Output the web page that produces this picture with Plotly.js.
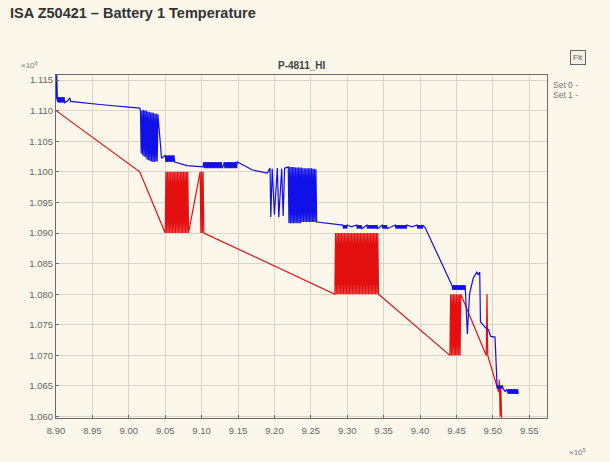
<!DOCTYPE html>
<html>
<head>
<meta charset="utf-8">
<script src="https://cdn.plot.ly/plotly-3.0.1.min.js"></script>
<style>html,body{margin:0;padding:0;background:#fdf6ea;}#chart{width:610px;height:462px;}</style>
</head>
<body>
<div id="chart"></div>
<script>
// Set 0 (blue)
const set0X = [
  8.900,8.901,8.902,
  8.903,8.904,8.905,8.906,8.907,8.908,8.909,8.910,8.911,8.912,
  8.916,8.919,8.920,8.960,9.015,
  9.016,9.017,9.018,9.019,9.020,9.021,9.022,9.023,9.024,9.025,
  9.026,9.027,9.028,9.029,9.030,9.031,9.032,9.033,9.034,9.035,
  9.036,9.037,9.038,9.039,9.040,
  9.045,
  9.050,9.051,9.052,9.053,9.054,9.055,9.056,9.057,9.058,9.059,9.060,9.061,9.062,9.063,
  9.080,9.102,
  9.103,9.104,9.105,9.106,9.107,9.108,9.109,9.110,9.111,9.112,
  9.113,9.114,9.115,9.116,9.117,9.118,9.119,9.120,9.121,9.122,
  9.123,9.124,9.125,9.126,9.127,9.128,
  9.130,
  9.131,9.132,9.133,9.134,9.135,9.136,9.137,9.138,9.139,9.140,
  9.141,9.142,9.143,9.144,9.145,9.146,9.147,9.148,9.149,
  9.170,9.190,
  9.194,9.195,9.197,9.200,9.204,9.206,9.210,9.212,9.214,
  9.219,9.220,9.221,9.222,9.223,9.224,9.225,9.226,9.227,9.228,
  9.229,9.230,9.231,9.232,9.233,9.234,9.235,9.236,9.237,9.238,
  9.239,9.240,9.241,9.242,9.243,9.244,9.245,9.246,9.247,9.248,
  9.249,9.250,9.251,9.252,9.253,9.254,9.255,9.256,9.257,9.258,
  9.294,9.295,9.296,9.297,9.298,9.299,9.300,
  9.306,
  9.313,9.314,9.315,9.316,9.317,9.318,9.319,9.320,
  9.324,
  9.327,9.328,9.329,9.330,9.331,9.332,9.333,9.334,9.335,9.336,9.337,9.338,9.339,9.340,9.341,9.342,
  9.345,
  9.348,9.349,9.350,9.351,9.352,9.353,9.354,9.355,
  9.360,
  9.366,9.367,9.368,9.369,9.370,9.371,9.372,9.373,9.374,9.375,9.376,9.377,9.378,9.379,9.380,9.381,9.382,
  9.389,
  9.396,9.397,9.398,9.399,9.400,9.401,9.402,9.403,9.404,
  9.407,9.444,
  9.445,9.446,9.447,9.448,9.449,9.450,9.451,9.452,9.453,9.454,9.455,9.456,9.457,9.458,9.459,9.460,9.461,9.462,
  9.465,9.468,9.473,9.478,9.480,9.482,9.483,9.487,9.490,9.494,9.497,9.503,9.505,
  9.506,9.507,9.508,9.509,9.510,9.511,9.512,9.513,9.514,
  9.517,
  9.520,9.521,9.522,9.523,9.524,9.525,9.526,9.527,9.528,9.529,9.530,9.531,9.532,9.533,9.534,9.535];
const set0Y = [
  1.1118,1.1158,1.1114,
  1.1122,1.1113,1.1122,1.1113,1.1122,1.1113,1.1122,1.1113,1.1122,1.1113,
  1.1116,1.1121,1.1115,1.1110,1.1104,
  1.1101,1.1030,1.1100,1.1027,1.1101,1.1025,1.1100,1.1024,1.1100,1.1020,
  1.1098,1.1019,1.1098,1.1018,1.1097,1.1017,1.1097,1.1016,1.1096,1.1016,
  1.1095,1.1017,1.1095,1.1017,1.1094,
  1.1022,
  1.1027,1.1016,1.1027,1.1016,1.1027,1.1016,1.1027,1.1016,1.1027,1.1016,1.1027,1.1016,1.1027,1.1016,
  1.1010,1.1008,
  1.1016,1.1006,1.1016,1.1006,1.1016,1.1006,1.1016,1.1006,1.1016,1.1006,
  1.1016,1.1006,1.1016,1.1006,1.1016,1.1006,1.1016,1.1006,1.1016,1.1006,
  1.1016,1.1006,1.1016,1.1006,1.1016,1.1006,
  1.1010,
  1.1016,1.1006,1.1016,1.1006,1.1016,1.1006,1.1016,1.1006,1.1016,1.1006,
  1.1016,1.1006,1.1016,1.1006,1.1016,1.1006,1.1016,1.1006,1.1016,
  1.1003,1.0998,
  1.1006,1.0926,1.1005,1.0930,1.1006,1.0926,1.1005,1.0928,1.1006,
  1.1008,1.0916,1.1008,1.0916,1.1008,1.0916,1.1008,1.0916,1.1008,1.0916,
  1.1007,1.0916,1.1007,1.0916,1.1007,1.0916,1.1007,1.0916,1.1007,1.0918,
  1.1006,1.0918,1.1006,1.0918,1.1006,1.0918,1.1006,1.0918,1.1006,1.0918,
  1.1006,1.0918,1.1006,1.0918,1.1005,1.0918,1.1005,1.0918,1.1004,1.0918,
  1.0913,1.0907,1.0913,1.0907,1.0913,1.0907,1.0913,
  1.0910,
  1.0913,1.0907,1.0913,1.0907,1.0913,1.0907,1.0913,1.0907,
  1.0910,
  1.0913,1.0907,1.0913,1.0907,1.0913,1.0907,1.0913,1.0907,1.0913,1.0907,1.0913,1.0907,1.0913,1.0907,1.0913,1.0907,
  1.0910,
  1.0913,1.0907,1.0913,1.0907,1.0913,1.0907,1.0913,1.0907,
  1.0910,
  1.0913,1.0907,1.0913,1.0907,1.0913,1.0907,1.0913,1.0907,1.0913,1.0907,1.0913,1.0907,1.0913,1.0907,1.0913,1.0907,1.0913,
  1.0910,
  1.0913,1.0907,1.0913,1.0907,1.0913,1.0907,1.0913,1.0907,1.0913,
  1.0909,1.0814,
  1.0807,1.0815,1.0807,1.0815,1.0807,1.0815,1.0807,1.0815,1.0807,1.0815,1.0807,1.0815,1.0807,1.0815,1.0807,1.0815,1.0807,1.0815,
  1.0735,1.0800,1.0826,1.0836,1.0832,1.0836,1.0755,1.0750,1.0745,1.0742,1.0731,1.0730,1.0650,
  1.0646,1.0651,1.0646,1.0651,1.0646,1.0651,1.0646,1.0651,1.0646,
  1.0641,
  1.0645,1.0637,1.0645,1.0637,1.0645,1.0637,1.0645,1.0637,1.0645,1.0637,1.0645,1.0637,1.0645,1.0637,1.0645,1.0637];

// Set 1 (red)
const set1X = [
  8.900,9.015,9.050,
  9.051,9.052,9.053,9.054,9.055,9.056,9.057,9.058,9.059,9.060,
  9.061,9.062,9.063,9.064,9.065,9.066,9.067,9.068,9.069,9.070,
  9.071,9.072,9.073,9.074,9.075,9.076,9.077,9.078,9.079,9.080,
  9.081,9.082,
  9.098,9.099,9.100,9.101,9.102,9.103,
  9.283,
  9.284,9.285,9.286,9.287,9.288,9.289,9.290,9.291,9.292,9.293,
  9.294,9.295,9.296,9.297,9.298,9.299,9.300,9.301,9.302,9.303,
  9.304,9.305,9.306,9.307,9.308,9.309,9.310,9.311,9.312,9.313,
  9.314,9.315,9.316,9.317,9.318,9.319,9.320,9.321,9.322,9.323,
  9.324,9.325,9.326,9.327,9.328,9.329,9.330,9.331,9.332,9.333,
  9.334,9.335,9.336,9.337,9.338,9.339,9.340,9.341,9.342,9.343,
  9.441,
  9.442,9.443,9.444,9.445,9.446,9.447,9.448,9.449,9.450,9.451,
  9.452,9.453,9.454,9.455,9.456,
  9.491,9.492,9.493,9.508,9.509,9.510,9.511,9.512];
const set1Y = [
  1.1100,1.1000,1.0900,
  1.1000,1.0900,1.1000,1.0900,1.1000,1.0900,1.1000,1.0900,1.1000,1.0900,
  1.1000,1.0900,1.1000,1.0900,1.1000,1.0900,1.1000,1.0900,1.1000,1.0900,
  1.1000,1.0900,1.1000,1.0900,1.1000,1.0900,1.1000,1.0900,1.1000,1.0900,
  1.1000,1.0900,
  1.1000,1.0900,1.1000,1.0900,1.1000,1.0900,
  1.0800,
  1.0900,1.0800,1.0900,1.0800,1.0900,1.0800,1.0900,1.0800,1.0900,1.0800,
  1.0900,1.0800,1.0900,1.0800,1.0900,1.0800,1.0900,1.0800,1.0900,1.0800,
  1.0900,1.0800,1.0900,1.0800,1.0900,1.0800,1.0900,1.0800,1.0900,1.0800,
  1.0900,1.0800,1.0900,1.0800,1.0900,1.0800,1.0900,1.0800,1.0900,1.0800,
  1.0900,1.0800,1.0900,1.0800,1.0900,1.0800,1.0900,1.0800,1.0900,1.0800,
  1.0900,1.0800,1.0900,1.0800,1.0900,1.0800,1.0900,1.0800,1.0900,1.0800,
  1.0700,
  1.0800,1.0700,1.0800,1.0700,1.0800,1.0700,1.0800,1.0700,1.0800,1.0700,
  1.0800,1.0700,1.0800,1.0700,1.0800,
  1.0700,1.0800,1.0700,1.0640,1.0660,1.0600,1.0650,1.0598];

const seriesNames = ["Set 0", "Set 1"];
const chartTitle = "ISA Z50421 – Battery 1 Temperature";
const plotTitle = "P-4811_HI";

const font = "Liberation Sans, Arial, sans-serif";
const traces = [
  {x: set1X, y: set1Y, type: "scatter", mode: "lines", name: seriesNames[1],
   line: {color: "rgb(228,16,16)", width: 1.2}, hoverinfo: "x+y"},
  {x: set0X, y: set0Y, type: "scatter", mode: "lines", name: seriesNames[0],
   line: {color: "rgb(16,16,232)", width: 1.2}, hoverinfo: "x+y"}
];

const layout = {
  width: 610, height: 462,
  paper_bgcolor: "#fdf6ea", plot_bgcolor: "#fdf6ea",
  margin: {l: 56, r: 63, t: 75, b: 44},
  showlegend: false,
  font: {family: font, size: 9, color: "#555"},
  xaxis: {range: [8.900, 9.5744], tick0: 8.90, dtick: 0.05, tickformat: ".2f",
    showgrid: true, gridcolor: "#dcd3c6", gridwidth: 1, zeroline: false,
    showline: true, mirror: true, linecolor: "#6a6a6a", linewidth: 1,
    ticks: "inside", ticklen: 3, tickcolor: "#6a6a6a", ticklabelstandoff: 4,
    tickfont: {family: font, size: 9.5, color: "#666"}},
  yaxis: {range: [1.05977, 1.11582], tick0: 1.060, dtick: 0.005, tickformat: ".3f",
    showgrid: true, gridcolor: "#dcd3c6", gridwidth: 1, zeroline: false,
    showline: true, mirror: true, linecolor: "#6a6a6a", linewidth: 1,
    ticks: "inside", ticklen: 3, tickcolor: "#6a6a6a",
    tickfont: {family: font, size: 9.5, color: "#666"}},
  annotations: [
    {text: "<b>" + chartTitle + "</b>", xref: "paper", yref: "paper", x: -0.098, y: 1.182,
     xanchor: "left", yanchor: "middle", showarrow: false, font: {family: font, size: 14.5, color: "#333"}},
    {text: "<b>" + plotTitle + "</b>", xref: "paper", yref: "paper", x: 0.5, y: 1.005,
     xanchor: "center", yanchor: "bottom", showarrow: false, font: {family: font, size: 10, color: "#444"}},
    {text: "×10<sup>6</sup>", xref: "paper", yref: "paper", x: -0.075, y: 1.01,
     xanchor: "left", yanchor: "bottom", showarrow: false, font: {family: font, size: 8, color: "#777"}},
    {text: "×10<sup>5</sup>", xref: "paper", yref: "paper", x: 1.04, y: -0.08,
     xanchor: "left", yanchor: "top", showarrow: false, font: {family: font, size: 8, color: "#777"}},
    {text: seriesNames[0] + " -", xref: "paper", yref: "paper", x: 1.008, y: 0.972,
     xanchor: "left", yanchor: "middle", showarrow: false, font: {family: font, size: 8.5, color: "#777"}},
    {text: seriesNames[1] + " -", xref: "paper", yref: "paper", x: 1.008, y: 0.942,
     xanchor: "left", yanchor: "middle", showarrow: false, font: {family: font, size: 8.5, color: "#777"}},
    {text: "Fit", xref: "paper", yref: "paper", x: 1.063, y: 1.052,
     xanchor: "center", yanchor: "middle", showarrow: false, bordercolor: "#666", borderwidth: 1, borderpad: 2,
     bgcolor: "#f4efe6", font: {family: font, size: 8, color: "#555"}}
  ]
};

Plotly.newPlot("chart", traces, layout, {displayModeBar: false, staticPlot: true});
</script>
</body>
</html>
